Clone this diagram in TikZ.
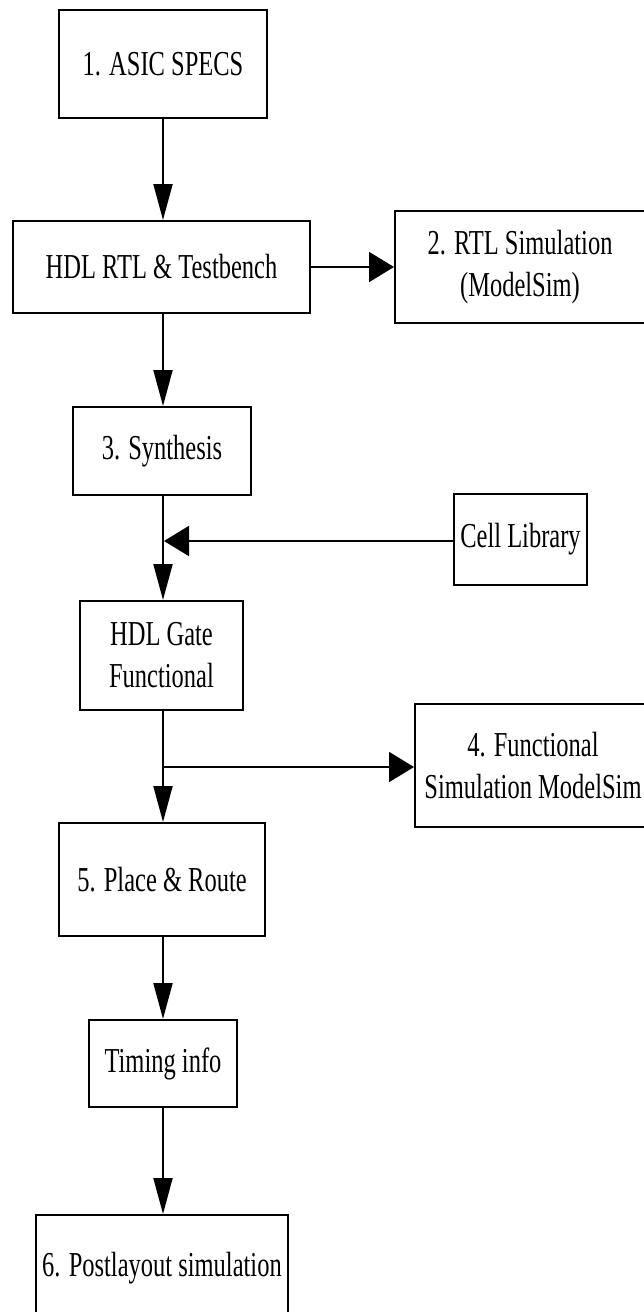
\documentclass[tikz,border=0pt]{standalone}
\usepackage{fontspec}
\setmainfont{Liberation Serif}[FakeStretch=0.70]
\usetikzlibrary{arrows.meta}
\tikzset{
  txt/.style={align=center, inner sep=0pt, font=\fontsize{35}{42}\selectfont},
  box/.style={txt, draw=black, line width=2pt, rectangle},
  conn/.style={line width=2pt, draw=black},
  varr/.style={conn, -{Triangle[length=36pt, width=19pt]}},
  harr/.style={conn, -{Triangle[length=25pt, width=30pt]}}
}
\begin{document}
\begin{tikzpicture}[x=1pt, y=-1pt]
\useasboundingbox (0,0) rectangle (643,1312);
\node[box, minimum width=208pt, minimum height=108pt] (spec) at (163,64) {1. ASIC SPECS};
\node[box, minimum width=297pt, minimum height=92pt] (hdl) at (161.5,267) {HDL RTL \& Testbench};
\node[box, minimum width=305pt, minimum height=112pt,
  label={[txt, xshift=-27.5pt]center:2. RTL Simulation\\(ModelSim)}] (rtl) at (547.5,267) {};
\node[box, minimum width=178pt, minimum height=88pt] (syn) at (162,451) {3. Synthesis};
\node[box, minimum width=133pt, minimum height=91pt] (cell) at (520.5,539.5) {Cell Library};
\node[box, minimum width=163pt, minimum height=109pt] (gate) at (161.5,655.5) {HDL Gate\\Functional};
\node[box, minimum width=290pt, minimum height=123pt,
  label={[txt, xshift=-27pt]center:4. Functional\\Simulation ModelSim}] (fsim) at (560,765.5) {};
\node[box, minimum width=206pt, minimum height=113pt] (pr) at (162,879.5) {5. Place \& Route};
\node[box, minimum width=148pt, minimum height=87pt] (tim) at (163,1063.5) {Timing info};
\node[box, minimum width=252pt, minimum height=106pt] (post) at (162,1268) {6. Postlayout simulation};

\coordinate (cj) at (164,541);
\coordinate (fj) at (163,767);

\draw[varr] (spec.south -| 163,0) -- (hdl.north -| 163,0);
\draw[harr] (hdl.east) -- (rtl.west);
\draw[varr] (hdl.south -| 163,0) -- (syn.north -| 163,0);
\draw[varr] (syn.south -| 163,0) -- (gate.north -| 163,0);
\draw[harr] (cell.west |- cj) -- (cj);
\draw[varr] (gate.south -| 163,0) -- (pr.north -| 163,0);
\draw[harr] (fj) -- (fsim.west |- fj);
\draw[varr] (pr.south -| 163,0) -- (tim.north -| 163,0);
\draw[varr] (tim.south -| 163,0) -- (post.north -| 163,0);
\end{tikzpicture}
\end{document}
